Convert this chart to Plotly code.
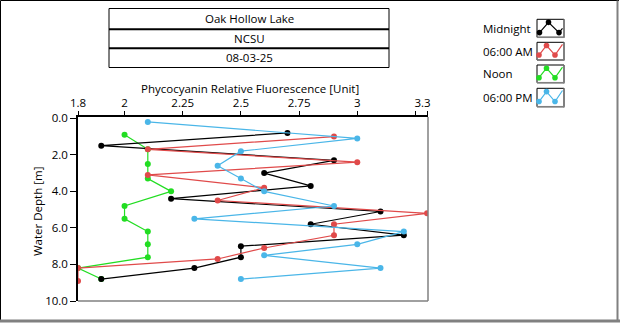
import plotly.graph_objects as go

# ---- data ----
mid_val = [2.7, 1.9, 2.9, 2.6, 2.8, 2.2, 3.1, 2.8, 3.2, 2.5, 2.5, 2.3, 1.9]
mid_depth = [0.8, 1.5, 2.3, 3.0, 3.7, 4.4, 5.1, 5.8, 6.4, 7.0, 7.6, 8.2, 8.8]
am_val = [2.9, 2.1, 3.0, 2.1, 2.6, 2.4, 3.3, 2.9, 2.9, 2.6, 2.4, 1.8, 1.8]
am_depth = [1.0, 1.7, 2.4, 3.1, 3.8, 4.5, 5.2, 5.8, 6.4, 7.1, 7.7, 8.2, 8.9]
noon_val = [2.0, 2.1, 2.1, 2.1, 2.2, 2.0, 2.0, 2.1, 2.1, 2.1, 1.8, 1.9]
noon_depth = [0.9, 1.7, 2.5, 3.3, 4.0, 4.8, 5.5, 6.2, 6.9, 7.6, 8.2, 8.8]
pm_val = [2.1, 3.0, 2.5, 2.4, 2.5, 2.6, 2.9, 2.3, 3.2, 3.0, 2.6, 3.1, 2.5]
pm_depth = [0.2, 1.1, 1.8, 2.6, 3.3, 4.0, 4.8, 5.5, 6.2, 6.9, 7.5, 8.2, 8.8]

series_names = ["Midnight", "06:00 AM", "Noon", "06:00 PM"]
series_colors = ["#000000", "#E04A4A", "#22DD22", "#4AB6E8"]

x_tickvals = [1.8, 2.0, 2.25, 2.5, 2.75, 3.0, 3.25, 3.3]
x_ticktext = ["1.8", "2", "2.25", "2.5", "2.75", "3", "", "3.3\u00a0\u00a0\u00a0"]
y_tickvals = [0, 2, 4, 6, 8, 10]
y_ticktext = ["0.0", "2.0", "4.0", "6.0", "8.0", "10.0"]

title_lines = ["Oak Hollow Lake", "NCSU", "08-03-25"]
x_title = "Phycocyanin Relative Fluorescence [Unit]"
y_title = "Water Depth [m]"

W, H = 620, 324
FONT = "Open Sans"
FS = 11.5

def px(x):
    return x / W

def py(y):
    return 1 - y / H

# plot area in pixels
PL, PR, PT, PB = 78, 428, 117, 301

all_vals = [mid_val, am_val, noon_val, pm_val]
all_depths = [mid_depth, am_depth, noon_depth, pm_depth]

fig = go.Figure()
# drawing order: Noon underneath, then Midnight, 06:00 AM, 06:00 PM
for i in [2, 0, 1, 3]:
    col = series_colors[i]
    fig.add_trace(go.Scatter(
        x=all_vals[i], y=all_depths[i], mode="lines+markers", name=series_names[i],
        line=dict(color=col, width=1.2),
        marker=dict(color=col, size=6, symbol="circle"),
        cliponaxis=True, showlegend=False))

shapes = []
annotations = []

# outer frame
shapes.append(dict(type="line", xref="paper", yref="paper", x0=px(0.5), x1=px(619), y0=py(0.5), y1=py(0.5), line=dict(color="#000000", width=1)))
shapes.append(dict(type="line", xref="paper", yref="paper", x0=px(0.5), x1=px(0.5), y0=py(0.5), y1=py(322), line=dict(color="#000000", width=1)))
shapes.append(dict(type="line", xref="paper", yref="paper", x0=px(617.5), x1=px(617.5), y0=py(0.5), y1=py(322), line=dict(color="#808080", width=2)))
shapes.append(dict(type="line", xref="paper", yref="paper", x0=px(0), x1=px(620), y0=py(321), y1=py(321), line=dict(color="#808080", width=3)))

# plot area right/bottom grey borders
shapes.append(dict(type="line", xref="paper", yref="paper", x0=px(PR), x1=px(PR), y0=py(PT), y1=py(PB), line=dict(color="#808080", width=1.5)))
shapes.append(dict(type="line", xref="paper", yref="paper", x0=px(PL), x1=px(PR), y0=py(PB), y1=py(PB), line=dict(color="#808080", width=1.5)))

# title boxes
bx0, bx1 = 109, 389
rows = [(8.5, 29.3), (29.3, 48.3), (48.3, 67.5)]
shapes.append(dict(type="rect", xref="paper", yref="paper", x0=px(bx0), x1=px(bx1), y0=py(8.5), y1=py(67.5), line=dict(color="#000000", width=1)))
for yy in [29.3, 48.3]:
    shapes.append(dict(type="line", xref="paper", yref="paper", x0=px(bx0), x1=px(bx1), y0=py(yy), y1=py(yy), line=dict(color="#000000", width=2)))
for (ya, yb), txt in zip(rows, title_lines):
    annotations.append(dict(text=txt, xref="paper", yref="paper", x=px((bx0 + bx1) / 2), y=py((ya + yb) / 2),
                            showarrow=False, xanchor="center", yanchor="middle", font=dict(family=FONT, size=FS, color="#000000")))

# legend (text left, icon right)
leg_rows = [(19.3, 37.3), (42.3, 60.0), (65.0, 82.7), (88.3, 106.7)]
ix0, ix1 = 537, 564
for (ya, yb), name, col, k in zip(leg_rows, series_names, series_colors, range(4)):
    annotations.append(dict(text=name, xref="paper", yref="paper", x=px(481), y=py((ya + yb) / 2),
                            showarrow=False, xanchor="left", yanchor="middle", font=dict(family=FONT, size=FS, color="#000000")))
    shapes.append(dict(type="rect", xref="paper", yref="paper", x0=px(ix0), x1=px(ix1), y0=py(ya), y1=py(yb), line=dict(color="#000000", width=1), fillcolor="#FFFFFF"))
    shapes.append(dict(type="line", xref="paper", yref="paper", x0=px(ix1), x1=px(ix1), y0=py(ya), y1=py(yb + 0.7), line=dict(color="#808080", width=1.5)))
    shapes.append(dict(type="line", xref="paper", yref="paper", x0=px(ix0), x1=px(ix1), y0=py(yb), y1=py(yb), line=dict(color="#808080", width=1.5)))
    h = yb - ya
    if k == 0:
        pts = [(ix0 + 2.5, ya + h * 0.74), (ix0 + 11.5, ya + h * 0.17), (ix0 + 22, ya + h * 0.74), (ix0 + 25.5, ya + h * 0.5)]
        mk = pts[:3]
    else:
        pts = [(ix0 + 2, ya + h * 0.72), (ix0 + 9.5, ya + h * 0.18), (ix0 + 18, ya + h * 0.72), (ix0 + 25.5, ya + h * 0.12)]
        mk = pts[:3]
    path = "M " + " L ".join(f"{px(a)},{py(b)}" for a, b in pts)
    shapes.append(dict(type="path", xref="paper", yref="paper", path=path, line=dict(color=col, width=1.2)))
    for a, b in mk:
        shapes.append(dict(type="circle", xref="paper", yref="paper", x0=px(a - 2.8), x1=px(a + 2.8), y0=py(b - 2.8), y1=py(b + 2.8),
                           line=dict(color=col, width=0), fillcolor=col))

# axis titles
annotations.append(dict(text=x_title, xref="paper", yref="paper", x=px(250), y=py(88), showarrow=False,
                        xanchor="center", yanchor="middle", font=dict(family=FONT, size=FS, color="#000000")))
annotations.append(dict(text=y_title, xref="paper", yref="paper", x=px(37), y=py(212), showarrow=False, textangle=-90,
                        xanchor="center", yanchor="middle", font=dict(family=FONT, size=FS, color="#000000")))

fig.update_layout(
    width=W, height=H,
    margin=dict(l=0, r=0, t=0, b=0),
    paper_bgcolor="#FFFFFF", plot_bgcolor="#FFFFFF",
    font=dict(family=FONT, size=FS, color="#000000"),
    shapes=shapes, annotations=annotations,
    xaxis=dict(domain=[px(PL), px(PR)], range=[1.8, 3.304], side="top",
               tickmode="array", tickvals=x_tickvals, ticktext=x_ticktext,
               ticks="outside", ticklen=4, tickcolor="#000000", tickwidth=1,
               showgrid=False, zeroline=False, showline=True, linecolor="#000000", linewidth=1.5,
               automargin=False, tickfont=dict(family=FONT, size=FS, color="#000000")),
    yaxis=dict(domain=[py(PB), py(PT)], range=[10, -0.07],
               tickmode="array", tickvals=y_tickvals, ticktext=y_ticktext,
               ticks="outside", ticklen=6, tickcolor="#000000", tickwidth=1,
               showgrid=False, zeroline=False, showline=True, linecolor="#000000", linewidth=1.5,
               automargin=False, tickfont=dict(family=FONT, size=FS, color="#000000")),
    showlegend=False,
)

fig.write_html("out.html")
